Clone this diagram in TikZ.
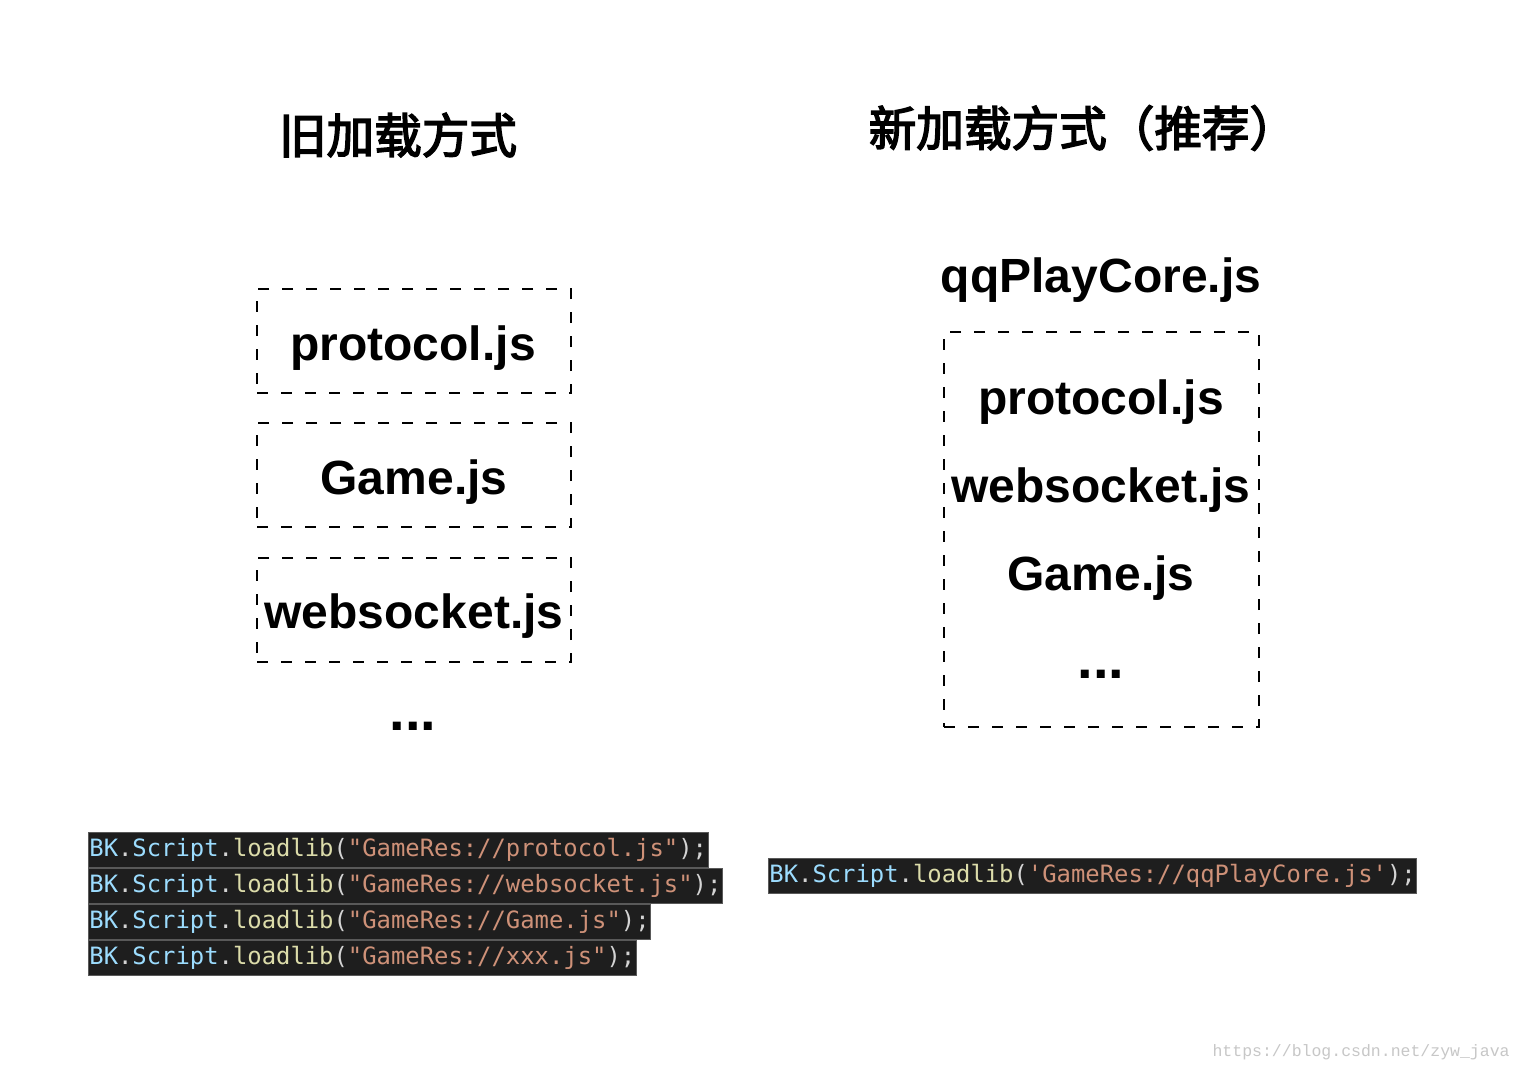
\documentclass[tikz,border=0pt]{standalone}
\usepackage{fontspec}
\setmainfont{Liberation Sans}
\newfontfamily\cjk{Noto Sans CJK SC}[FakeBold=3.2]
\newfontfamily\codefont{DejaVu Sans Mono}
\newfontfamily\wmfont{Liberation Mono}
\definecolor{codebg}{HTML}{1E1E1E}
\definecolor{cblue}{HTML}{9CDCFE}
\definecolor{cwhite}{HTML}{D4D4D4}
\definecolor{cyel}{HTML}{DCDCAA}
\definecolor{corg}{HTML}{CE9178}
\newcommand\kb[1]{\textcolor{cblue}{#1}}
\newcommand\kw[1]{\textcolor{cwhite}{#1}}
\newcommand\ky[1]{\textcolor{cyel}{#1}}
\newcommand\ko[1]{\textcolor{corg}{#1}}
\tikzset{
  title/.style={font=\cjk\fontsize{23.8pt}{26pt}\selectfont, inner sep=0pt},
  jsname/.style={font=\bfseries\fontsize{24pt}{28pt}\selectfont, inner sep=0pt, anchor=base},
  dots/.style={font=\bfseries\fontsize{28pt}{30pt}\selectfont, inner sep=0pt, anchor=base},
  filebox/.style={draw, dash pattern=on 5.5pt off 6.5pt, line width=0.9pt, minimum width=157pt, minimum height=52pt, inner sep=0pt},
  codeline/.style={fill=codebg, draw=black!65, line width=0.4pt, anchor=west, inner xsep=0.5pt, inner ysep=0pt, minimum height=17.5pt, text height=8.6pt, text depth=2.4pt, font=\codefont\fontsize{11.93pt}{14pt}\selectfont},
  watermark/.style={font=\wmfont\fontsize{8.25pt}{10pt}\selectfont, text=black!22, inner sep=0pt}
}
\begin{document}
\begin{tikzpicture}[x=0.5pt,y=-0.5pt]
\useasboundingbox[fill=white] (0,0) rectangle (1522,1072);
% titles
\node[title] (oldt) at (398,135) {旧加载方式};
\node[title] (newt) at (1083,128) {新加载方式（推荐）};
% left boxes
\node[filebox] (b1) at (414,341) {};
\node[filebox] (b2) at (414,475) {};
\node[filebox] (b3) at (414,610) {};
\node[jsname] (p1) at (413,360) {protocol.js};
\node[jsname] (g1) at (414,494) {Game.js};
\node[jsname] (w1) at (414,628) {websocket.js};
\node[dots] (e1) at (413,730) {...};
% right
\node[jsname] (core) at (1101,292) {qqPlayCore.js};
\node[draw, dash pattern=on 5.5pt off 6.5pt, line width=0.9pt, minimum width=157.5pt, minimum height=197.5pt, inner sep=0pt] (big) at (1101.5,529.5) {};
\node[jsname] (p2) at (1101,414) {protocol.js};
\node[jsname] (w2) at (1101,502) {websocket.js};
\node[jsname] (g2) at (1101,590) {Game.js};
\node[dots] (e2) at (1101,678) {...};
% code left
\node[codeline] (c1) at (88,850) {\kb{BK}\kw{.}\kb{Script}\kw{.}\ky{loadlib}\kw{(}\ko{"GameRes://protocol.js"}\kw{);}};
\node[codeline] (c2) at (88,886) {\kb{BK}\kw{.}\kb{Script}\kw{.}\ky{loadlib}\kw{(}\ko{"GameRes://websocket.js"}\kw{);}};
\node[codeline] (c3) at (88,922) {\kb{BK}\kw{.}\kb{Script}\kw{.}\ky{loadlib}\kw{(}\ko{"GameRes://Game.js"}\kw{);}};
\node[codeline] (c4) at (88,958) {\kb{BK}\kw{.}\kb{Script}\kw{.}\ky{loadlib}\kw{(}\ko{"GameRes://xxx.js"}\kw{);}};
% code right
\node[codeline] (c5) at (768,876) {\kb{BK}\kw{.}\kb{Script}\kw{.}\ky{loadlib}\kw{(}\ko{'GameRes://qqPlayCore.js'}\kw{);}};
% watermark
\node[watermark, anchor=east] (wm) at (1510,1052) {https://blog.csdn.net/zyw\_java};
\end{tikzpicture}
\end{document}
